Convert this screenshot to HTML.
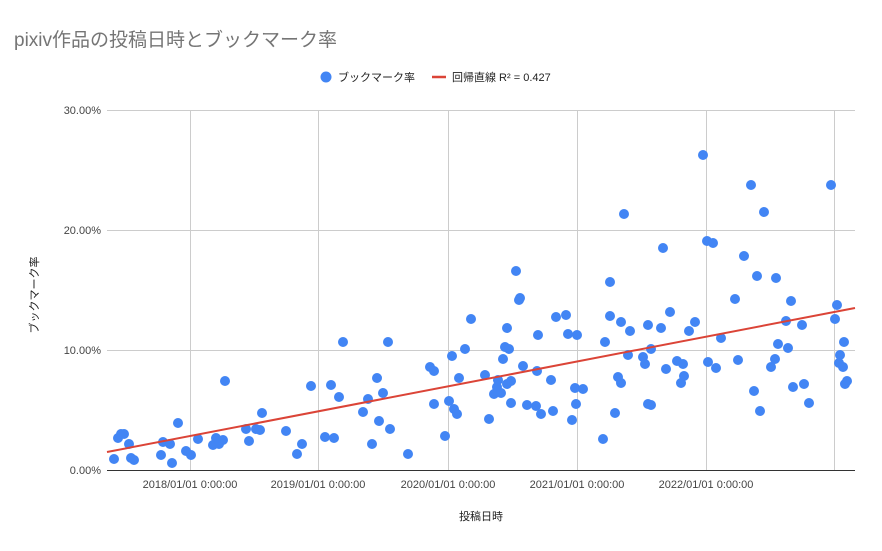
<!DOCTYPE html>
<html><head><meta charset="utf-8"><style>
body{margin:0;background:#fff}
svg{display:block}
text{font-family:"Liberation Sans","Noto Sans CJK JP",sans-serif}
</style></head><body>
<svg width="882" height="551" xmlns="http://www.w3.org/2000/svg">
<rect width="882" height="551" fill="#fff"/>
<text x="14" y="46" font-size="19" fill="#757575">pixiv作品の投稿日時とブックマーク率</text>
<circle cx="326" cy="77" r="5.5" fill="#4285f4"/>
<text x="338" y="81" font-size="11" fill="#222">ブックマーク率</text>
<line x1="432" y1="77" x2="446" y2="77" stroke="#db4437" stroke-width="2.5"/>
<text x="452" y="81" font-size="11" fill="#222">回帰直線 R² = 0.427</text>
<g stroke="#cccccc" stroke-width="1">
<line x1="107" y1="110.5" x2="855" y2="110.5"/>
<line x1="107" y1="230.5" x2="855" y2="230.5"/>
<line x1="107" y1="350.5" x2="855" y2="350.5"/>
<line x1="190.5" y1="110" x2="190.5" y2="470"/>
<line x1="318.5" y1="110" x2="318.5" y2="470"/>
<line x1="448.5" y1="110" x2="448.5" y2="470"/>
<line x1="577.5" y1="110" x2="577.5" y2="470"/>
<line x1="706.5" y1="110" x2="706.5" y2="470"/>
<line x1="834.5" y1="110" x2="834.5" y2="470"/>
</g>
<line x1="107" y1="470.5" x2="855" y2="470.5" stroke="#333" stroke-width="1"/>
<g font-size="11" fill="#444" text-anchor="end">
<text x="101" y="114">30.00%</text>
<text x="101" y="234">20.00%</text>
<text x="101" y="354">10.00%</text>
<text x="101" y="474">0.00%</text>
</g>
<g font-size="11" fill="#444" text-anchor="middle">
<text x="190" y="488">2018/01/01 0:00:00</text>
<text x="318" y="488">2019/01/01 0:00:00</text>
<text x="448" y="488">2020/01/01 0:00:00</text>
<text x="577" y="488">2021/01/01 0:00:00</text>
<text x="706" y="488">2022/01/01 0:00:00</text>
<text x="481" y="520" fill="#222">投稿日時</text>
</g>
<text transform="translate(38,295) rotate(-90)" font-size="11" fill="#222" text-anchor="middle">ブックマーク率</text>
<g fill="#4285f4">
<circle cx="114" cy="459" r="5"/><circle cx="118" cy="438" r="5"/><circle cx="121" cy="434" r="5"/><circle cx="124" cy="434" r="5"/><circle cx="129" cy="444" r="5"/><circle cx="131" cy="458" r="5"/><circle cx="134" cy="460" r="5"/><circle cx="161" cy="455" r="5"/><circle cx="163" cy="442" r="5"/><circle cx="170" cy="444" r="5"/><circle cx="172" cy="463" r="5"/><circle cx="178" cy="423" r="5"/><circle cx="186" cy="451" r="5"/><circle cx="191" cy="455" r="5"/><circle cx="198" cy="439" r="5"/><circle cx="213" cy="445" r="5"/><circle cx="216" cy="438" r="5"/><circle cx="219" cy="444" r="5"/><circle cx="223" cy="440" r="5"/><circle cx="225" cy="381" r="5"/><circle cx="246" cy="429" r="5"/><circle cx="249" cy="441" r="5"/><circle cx="256" cy="429" r="5"/><circle cx="260" cy="430" r="5"/><circle cx="262" cy="413" r="5"/><circle cx="286" cy="431" r="5"/><circle cx="297" cy="454" r="5"/><circle cx="302" cy="444" r="5"/><circle cx="311" cy="386" r="5"/><circle cx="325" cy="437" r="5"/><circle cx="331" cy="385" r="5"/><circle cx="334" cy="438" r="5"/><circle cx="339" cy="397" r="5"/><circle cx="343" cy="342" r="5"/><circle cx="363" cy="412" r="5"/><circle cx="368" cy="399" r="5"/><circle cx="372" cy="444" r="5"/><circle cx="377" cy="378" r="5"/><circle cx="379" cy="421" r="5"/><circle cx="383" cy="393" r="5"/><circle cx="388" cy="342" r="5"/><circle cx="390" cy="429" r="5"/><circle cx="408" cy="454" r="5"/><circle cx="430" cy="367" r="5"/><circle cx="434" cy="371" r="5"/><circle cx="434" cy="404" r="5"/><circle cx="445" cy="436" r="5"/><circle cx="449" cy="401" r="5"/><circle cx="452" cy="356" r="5"/><circle cx="454" cy="409" r="5"/><circle cx="457" cy="414" r="5"/><circle cx="459" cy="378" r="5"/><circle cx="465" cy="349" r="5"/><circle cx="471" cy="319" r="5"/><circle cx="485" cy="375" r="5"/><circle cx="489" cy="419" r="5"/><circle cx="494" cy="394" r="5"/><circle cx="497" cy="387" r="5"/><circle cx="498" cy="380" r="5"/><circle cx="501" cy="393" r="5"/><circle cx="503" cy="359" r="5"/><circle cx="505" cy="347" r="5"/><circle cx="507" cy="328" r="5"/><circle cx="507" cy="384" r="5"/><circle cx="509" cy="349" r="5"/><circle cx="511" cy="381" r="5"/><circle cx="511" cy="403" r="5"/><circle cx="516" cy="271" r="5"/><circle cx="519" cy="300" r="5"/><circle cx="520" cy="298" r="5"/><circle cx="523" cy="366" r="5"/><circle cx="527" cy="405" r="5"/><circle cx="536" cy="406" r="5"/><circle cx="537" cy="371" r="5"/><circle cx="538" cy="335" r="5"/><circle cx="541" cy="414" r="5"/><circle cx="551" cy="380" r="5"/><circle cx="553" cy="411" r="5"/><circle cx="556" cy="317" r="5"/><circle cx="566" cy="315" r="5"/><circle cx="568" cy="334" r="5"/><circle cx="572" cy="420" r="5"/><circle cx="575" cy="388" r="5"/><circle cx="576" cy="404" r="5"/><circle cx="577" cy="335" r="5"/><circle cx="583" cy="389" r="5"/><circle cx="603" cy="439" r="5"/><circle cx="605" cy="342" r="5"/><circle cx="610" cy="282" r="5"/><circle cx="610" cy="316" r="5"/><circle cx="615" cy="413" r="5"/><circle cx="618" cy="377" r="5"/><circle cx="621" cy="322" r="5"/><circle cx="621" cy="383" r="5"/><circle cx="624" cy="214" r="5"/><circle cx="628" cy="355" r="5"/><circle cx="630" cy="331" r="5"/><circle cx="643" cy="357" r="5"/><circle cx="645" cy="364" r="5"/><circle cx="648" cy="325" r="5"/><circle cx="648" cy="404" r="5"/><circle cx="651" cy="349" r="5"/><circle cx="651" cy="405" r="5"/><circle cx="661" cy="328" r="5"/><circle cx="663" cy="248" r="5"/><circle cx="666" cy="369" r="5"/><circle cx="670" cy="312" r="5"/><circle cx="677" cy="361" r="5"/><circle cx="681" cy="383" r="5"/><circle cx="683" cy="364" r="5"/><circle cx="684" cy="376" r="5"/><circle cx="689" cy="331" r="5"/><circle cx="695" cy="322" r="5"/><circle cx="703" cy="155" r="5"/><circle cx="707" cy="241" r="5"/><circle cx="708" cy="362" r="5"/><circle cx="713" cy="243" r="5"/><circle cx="716" cy="368" r="5"/><circle cx="721" cy="338" r="5"/><circle cx="735" cy="299" r="5"/><circle cx="738" cy="360" r="5"/><circle cx="744" cy="256" r="5"/><circle cx="751" cy="185" r="5"/><circle cx="754" cy="391" r="5"/><circle cx="757" cy="276" r="5"/><circle cx="760" cy="411" r="5"/><circle cx="764" cy="212" r="5"/><circle cx="771" cy="367" r="5"/><circle cx="775" cy="359" r="5"/><circle cx="776" cy="278" r="5"/><circle cx="778" cy="344" r="5"/><circle cx="786" cy="321" r="5"/><circle cx="788" cy="348" r="5"/><circle cx="791" cy="301" r="5"/><circle cx="793" cy="387" r="5"/><circle cx="802" cy="325" r="5"/><circle cx="804" cy="384" r="5"/><circle cx="809" cy="403" r="5"/><circle cx="831" cy="185" r="5"/><circle cx="835" cy="319" r="5"/><circle cx="837" cy="305" r="5"/><circle cx="839" cy="363" r="5"/><circle cx="840" cy="355" r="5"/><circle cx="843" cy="367" r="5"/><circle cx="844" cy="342" r="5"/><circle cx="845" cy="384" r="5"/><circle cx="847" cy="381" r="5"/>
</g>
<line x1="107" y1="452" x2="855" y2="308" stroke="#db4437" stroke-width="2"/>
</svg>
</body></html>
